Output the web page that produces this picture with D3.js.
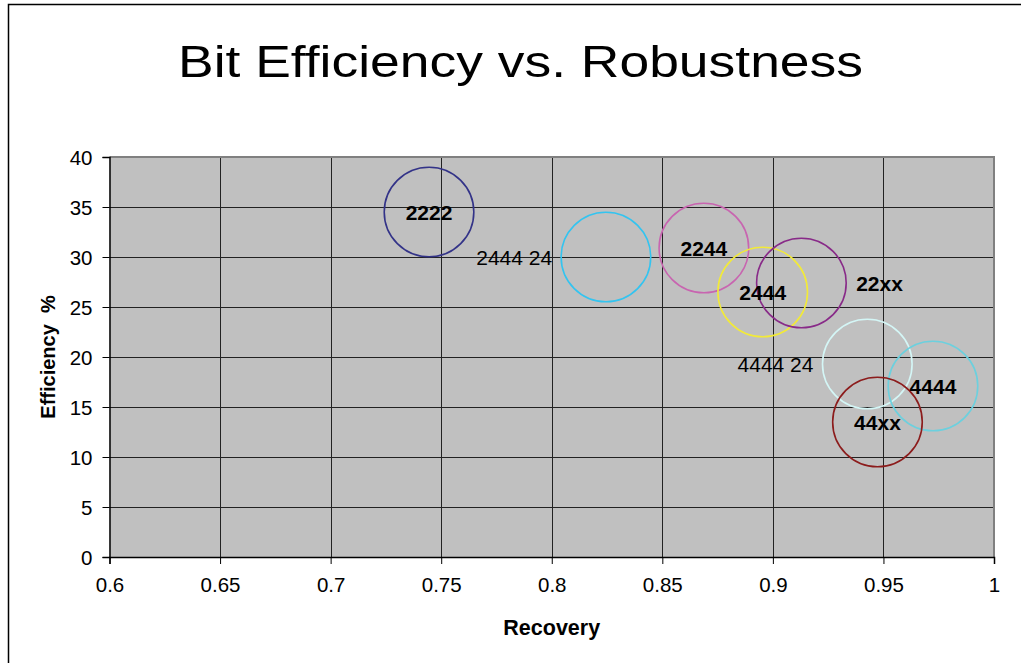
<!DOCTYPE html>
<html>
<head>
<meta charset="utf-8">
<script src="https://cdn.jsdelivr.net/npm/d3@7/dist/d3.min.js"></script>
<style>
  html, body { margin: 0; padding: 0; background: #fff; }
  svg { display: block; font-family: 'Liberation Sans', Arial, sans-serif; }
</style>
</head>
<body>
<div id="chart"></div>
<script>
// ── Data ──
const labels   = ['2222', '2444 24', '2244', '2444', '22xx', '4444 24', '4444', '44xx'];
const recovery = [0.7445, 0.8245, 0.8688, 0.8954, 0.9129, 0.9427, 0.9724, 0.9473];
const efficiency = [34.5, 30.0, 30.9, 26.5, 27.4, 19.3, 17.1, 13.5];
const bubbleSize = [1, 1, 1, 1, 1, 1, 1, 1];
const xTicks = [0.6, 0.65, 0.7, 0.75, 0.8, 0.85, 0.9, 0.95, 1];
const yTicks = [0, 5, 10, 15, 20, 25, 30, 35, 40];

// ── Styling ──
const COL = {
  plotBg: '#c0c0c0',
  grid: '#222',
  border: '#808080',
  axis: '#000',
  series: ['#333388', '#33c4f0', '#c865b0', '#f2ea38', '#882a88', '#d4f6f6', '#6cd0de', '#8c1c1c'],
};
// label placement per series (Excel data labels: center / left / right)
const labelPlace = ['center', 'left', 'center', 'center', 'right', 'left', 'center', 'center'];
const labelBold  = [true, false, true, true, true, false, true, true];

const W = 1021, H = 663;
const M = { left: 109.5, right: 994, top: 157, bottom: 557 };

const svg = d3.select('#chart').append('svg')
  .attr('width', W).attr('height', H)
  .attr('viewBox', `0 0 ${W} ${H}`);

// outer chart border (left + top, right/bottom fall outside the picture)
svg.append('path')
  .attr('d', `M8.5,${H} L8.5,4.5 L${W},4.5`)
  .attr('fill', 'none').attr('stroke', '#000').attr('stroke-width', 1.5);

const x = d3.scaleLinear().domain([0.6, 1]).range([M.left, M.right]);
const y = d3.scaleLinear().domain([0, 40]).range([M.bottom, M.top]);
const r = d3.scaleSqrt().domain([0, 1]).range([0, 44.8]);

// Title (stretched like the original)
svg.append('text')
  .attr('x', 178).attr('y', 77)
  .attr('font-size', 44)
  .attr('textLength', 685)
  .attr('lengthAdjust', 'spacingAndGlyphs')
  .attr('fill', '#000')
  .text('Bit Efficiency vs. Robustness');

// Plot area
svg.append('rect')
  .attr('x', M.left).attr('y', M.top)
  .attr('width', M.right - M.left).attr('height', M.bottom - M.top)
  .attr('fill', COL.plotBg);

// Gridlines
const grid = svg.append('g');
grid.selectAll('.vg').data(xTicks.filter(t => t > 0.6 && t < 1)).enter().append('line')
  .attr('x1', d => Math.round(x(d)) + 0.5).attr('x2', d => Math.round(x(d)) + 0.5)
  .attr('y1', M.top).attr('y2', M.bottom)
  .attr('stroke', COL.grid).attr('stroke-width', 1);
grid.selectAll('.hg').data(yTicks.filter(t => t > 0 && t < 40)).enter().append('line')
  .attr('y1', d => Math.round(y(d)) + 0.5).attr('y2', d => Math.round(y(d)) + 0.5)
  .attr('x1', M.left).attr('x2', M.right)
  .attr('stroke', COL.grid).attr('stroke-width', 1);

// Plot border top/right
svg.append('path')
  .attr('d', `M${M.left},${M.top} L${M.right},${M.top} L${M.right},${M.bottom}`)
  .attr('fill', 'none').attr('stroke', COL.border).attr('stroke-width', 2);

// Axes
const xAxis = svg.append('g')
  .attr('transform', `translate(0,${M.bottom})`)
  .call(d3.axisBottom(x).tickValues(xTicks).tickFormat(d => String(d)).tickSizeOuter(0).tickSize(7).tickPadding(13));
const yAxis = svg.append('g')
  .attr('transform', `translate(${M.left},0)`)
  .call(d3.axisLeft(y).tickValues(yTicks).tickFormat(d => String(d)).tickSizeOuter(0).tickSize(7).tickPadding(10));

[xAxis, yAxis].forEach(a => {
  a.select('.domain').attr('stroke', COL.axis).attr('stroke-width', 1.5);
  a.selectAll('.tick line').attr('stroke', COL.axis);
  a.selectAll('.tick text')
    .attr('font-size', 20.5)
    .attr('font-family', "'Liberation Sans', Arial, sans-serif")
    .attr('fill', '#000');
});
yAxis.selectAll('.tick text').attr('dy', '0.36em');

// Axis titles
svg.append('text')
  .attr('x', (M.left + M.right) / 2).attr('y', 635)
  .attr('text-anchor', 'middle')
  .attr('font-size', 21.5).attr('font-weight', 'bold')
  .text('Recovery');

svg.append('text')
  .attr('transform', `translate(55,${(M.top + M.bottom) / 2}) rotate(-90)`)
  .attr('text-anchor', 'middle')
  .attr('font-size', 20).attr('font-weight', 'bold')
  .style('white-space', 'pre')
  .text('Efficiency  %');

// Bubbles
const pts = labels.map((l, i) => ({
  label: l, x: recovery[i], y: efficiency[i], s: bubbleSize[i],
  color: COL.series[i], place: labelPlace[i], bold: labelBold[i],
}));

svg.append('g').selectAll('circle').data(pts).enter().append('circle')
  .attr('cx', d => x(d.x)).attr('cy', d => y(d.y))
  .attr('r', d => r(d.s))
  .attr('fill', 'none')
  .attr('stroke', d => d.color)
  .attr('stroke-width', 1.6);

svg.append('g').selectAll('text').data(pts).enter().append('text')
  .attr('x', d => d.place === 'left' ? x(d.x) - r(d.s) - 9
                : d.place === 'right' ? x(d.x) + r(d.s) + 10 : x(d.x))
  .attr('y', d => y(d.y))
  .attr('dy', '0.36em')
  .attr('text-anchor', d => d.place === 'left' ? 'end' : d.place === 'right' ? 'start' : 'middle')
  .attr('font-size', 21)
  .attr('font-weight', d => d.bold ? 'bold' : 'normal')
  .attr('fill', '#000')
  .text(d => d.label);
</script>
</body>
</html>
